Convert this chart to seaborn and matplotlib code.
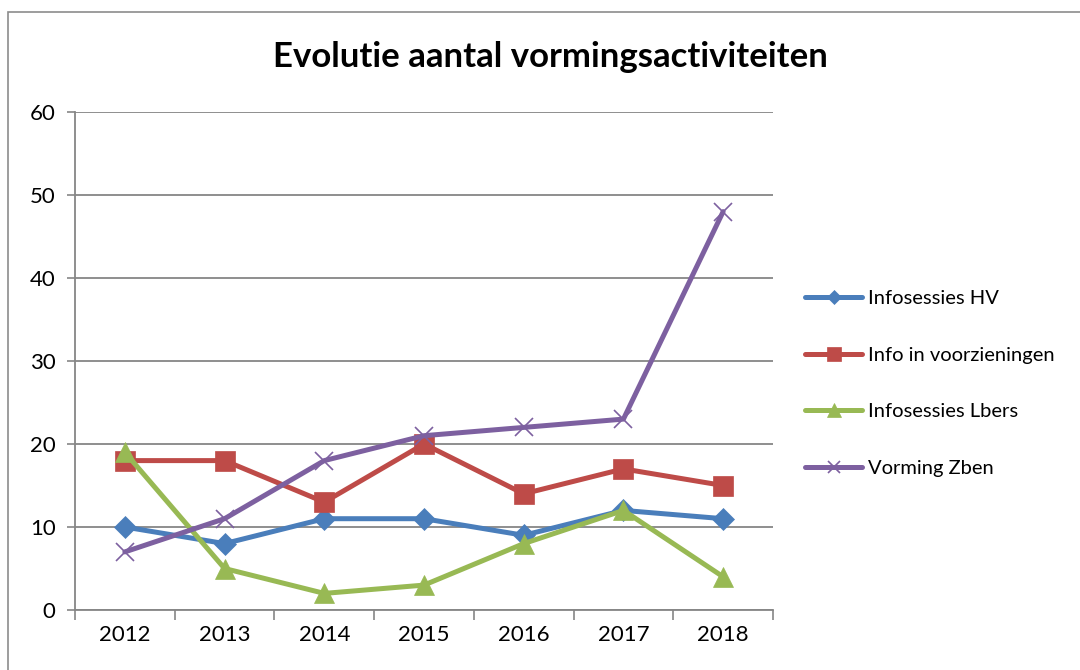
import matplotlib
matplotlib.use("Agg")
import matplotlib.pyplot as plt
import matplotlib.patches as patches
import pandas as pd
import seaborn as sns

# data
years = ["2012", "2013", "2014", "2015", "2016", "2017", "2018"]
series_names = ["Infosessies HV", "Info in voorzieningen", "Infosessies Lbers", "Vorming Zben"]
infosessies_hv = [10, 8, 11, 11, 9, 12, 11]
info_voorzieningen = [18, 18, 13, 20, 14, 17, 15]
infosessies_lbers = [19, 5, 2, 3, 8, 12, 4]
vorming_zben = [7, 11, 18, 21, 22, 23, 48]

colors = ["#4A7EBB", "#BE4B48", "#98B954", "#7D60A0"]
markers = ["D", "s", "^", "x"]
marker_sizes = [11, 15, 15, 13]

values = [infosessies_hv, info_voorzieningen, infosessies_lbers, vorming_zben]
rows = []
for name, vals in zip(series_names, values):
    for i, v in enumerate(vals):
        rows.append({"pos": i, "jaar": years[i], "reeks": name, "aantal": v})
df = pd.DataFrame(rows)

sns.set_style("white")
plt.rcParams["font.family"] = ["Lato", "DejaVu Sans"]
plt.rcParams["text.color"] = "black"
plt.rcParams["xtick.labelcolor"] = "black"
plt.rcParams["ytick.labelcolor"] = "black"

fig = plt.figure(figsize=(10.8, 6.7), dpi=100)
ax = fig.add_axes([75 / 1080, 1 - 610 / 670, (773 - 75) / 1080, (610 - 112) / 670])

# outer chart border (Excel style frame)
fig.patches.append(patches.Rectangle((8 / 1080, -0.1), 2, 1.1 - 12 / 670, transform=fig.transFigure,
                                     fill=False, edgecolor="#8c8c8c", linewidth=1.2))

for name, col, mk, ms in zip(series_names, colors, markers, marker_sizes):
    sub = df[df["reeks"] == name]
    sns.lineplot(data=sub, x="pos", y="aantal", ax=ax, color=col, linewidth=3.6,
                 marker=mk, markersize=ms, markeredgecolor=col,
                 markeredgewidth=1.2 if mk == "x" else 0.5, label=name)

ax.set_xlim(-0.5, 6.5)
ax.set_ylim(0, 60)
ax.set_yticks(range(0, 61, 10))
ax.set_xticks([i - 0.5 for i in range(8)], minor=False)
ax.set_xticklabels([])
ax.set_xticks(range(7), minor=True)
ax.set_xticklabels(years, minor=True)
ax.tick_params(axis="x", which="major", length=7, width=1.2, color="#868686", direction="out", bottom=True)
ax.tick_params(axis="x", which="minor", length=0, labelsize=16, pad=11)
ax.tick_params(axis="y", length=6, width=1.2, color="#868686", direction="out", left=True, labelsize=16, pad=8)
ax.yaxis.grid(True, color="#868686", linewidth=1.3)
ax.set_axisbelow(True)
for side in ["top", "right"]:
    ax.spines[side].set_visible(False)
for side in ["left", "bottom"]:
    ax.spines[side].set_color("#868686")
    ax.spines[side].set_linewidth(1.3)
ax.set_xlabel("")
ax.set_ylabel("")

fig.text(550 / 1080, 1 - 57 / 670, "Evolutie aantal vormingsactiviteiten", ha="center", va="center",
         fontsize=25, fontweight="bold", color="black")

leg = ax.legend(loc="center left", bbox_to_anchor=(1.035, 0.455), frameon=False, fontsize=14.5,
                handlelength=2.8, handletextpad=0.3, labelspacing=1.97, borderaxespad=0,
                markerscale=0.65)

fig.savefig("out.png", dpi=100)
